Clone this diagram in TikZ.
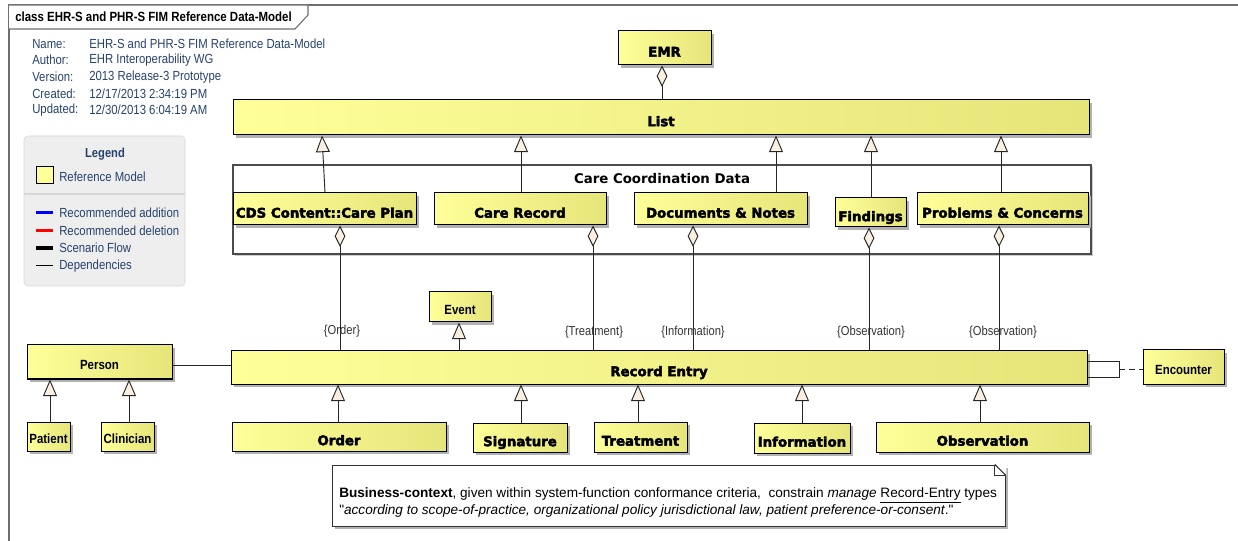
\documentclass[tikz,border=0pt]{standalone}
\usepackage{fontspec}
\setmainfont{Liberation Sans}[FakeStretch=0.86]
\newfontfamily\notefont{Liberation Sans}
\newfontfamily\dvsans{DejaVu Sans}
\newfontfamily\heavyfont{DejaVu Sans Bold}[FakeBold=3]
\usetikzlibrary{arrows.meta,shadows}
\definecolor{yl}{RGB}{255,255,153}
\definecolor{yr}{RGB}{229,229,122}
\definecolor{cream}{RGB}{250,240,226}
\definecolor{navy}{RGB}{38,66,108}
\definecolor{legfill}{RGB}{238,238,238}
\definecolor{legdraw}{RGB}{215,215,215}
\definecolor{framegray}{RGB}{110,110,110}
\newcommand\ubox[7]{\node[#1, minimum width={(#5-#3)*0.75pt}, minimum height={(#6-#4)*0.75pt}] (#2) at ({(#3+#5)/2},{(#4+#6)/2}) {#7};}
\tikzset{
  ybox/.style={draw=black, line width=0.75pt, left color=yl, right color=yr, inner sep=0pt,
    drop shadow={shadow xshift=2.25pt, shadow yshift=-2.25pt, fill=black!30, opacity=1}},
  heavybox/.style={ybox, font=\heavyfont\fontsize{10}{12}\selectfont, text height=15pt, text depth=2pt},
  lightbox/.style={ybox, font=\bfseries\fontsize{10}{12}\selectfont, text height=12pt, text depth=1pt},
  pkgbox/.style={draw=black!70, line width=0.8pt, fill=white, inner sep=0pt,
    drop shadow={shadow xshift=1.5pt, shadow yshift=-1.5pt, fill=black!20, opacity=1}},
  legendbox/.style={draw=legdraw, fill=legfill, rounded corners=3pt, inner sep=0pt},
  conn/.style={draw=black!85, line width=0.7pt},
  gen/.style={conn, -{Triangle[fill=cream, length=12.5pt, width=10.5pt]}},
  agg/.style={conn, {Diamond[fill=cream, length=16pt, width=8pt]}-},
  role/.style={font=\fontsize{9.75}{11}\selectfont, text=black!80, inner sep=0pt},
  hdr/.style={font=\fontsize{9.9}{11}\selectfont, text=navy, anchor=west, inner sep=0pt},
}
\begin{document}
\begin{tikzpicture}[x=0.75pt,y=-0.75pt]
\useasboundingbox (0,0) rectangle (1238,541);
% frame and tab
\draw[framegray, line width=0.8pt] (9,541) -- (9,5) -- (1238,5);
\draw[framegray, line width=0.8pt, fill=white] (9,5) -- (308,5) -- (308,15) -- (295,29) -- (9,29);
\node[font=\bfseries\fontsize{10}{12}\selectfont, anchor=west, inner sep=0pt] (title) at (15,17) {class EHR-S and PHR-S FIM Reference Data-Model};
% header
\node[hdr] (hName) at (32,44) {Name:};
\node[hdr] (vName) at (89,44) {EHR-S and PHR-S FIM Reference Data-Model};
\node[hdr] (hAuthor) at (32,60) {Author:};
\node[hdr] (vAuthor) at (89,60) {EHR Interoperability WG};
\node[hdr] (hVersion) at (32,77) {Version:};
\node[hdr] (vVersion) at (89,77) {2013 Release-3 Prototype};
\node[hdr] (hCreated) at (32,94) {Created:};
\node[hdr] (vCreated) at (89,94) {12/17/2013 2:34:19 PM};
\node[hdr] (hUpdated) at (32,110) {Updated:};
\node[hdr] (vUpdated) at (89,110) {12/30/2013 6:04:19 AM};
% legend
\ubox{legendbox}{legend}{24}{136}{185}{286}{}
\node[font=\bfseries\fontsize{9.75}{11}\selectfont, text=navy, inner sep=0pt] (legtitle) at (105,154) {Legend};
\ubox{draw=black, line width=0.75pt, fill=yl, inner sep=0pt}{legsw}{36}{167}{53}{184}{}
\node[hdr] (legref) at (59,177) {Reference Model};
\coordinate (c194) at (0,194);
\draw[legdraw, line width=0.8pt] (legend.west |- c194) -- (legend.east |- c194);
\draw[blue, line width=2.25pt] (36,213) -- (53,213);
\node[hdr] (legadd) at (59,213) {Recommended addition};
\draw[red, line width=2.25pt] (36,231) -- (53,231);
\node[hdr] (legdel) at (59,231) {Recommended deletion};
\draw[black, line width=3pt] (36,248) -- (53,248);
\node[hdr] (legflow) at (59,248) {Scenario Flow};
\draw[black, line width=0.75pt] (36,266) -- (53,266);
\node[hdr] (legdep) at (59,266) {Dependencies};
% top classes
\ubox{heavybox}{EMR}{618}{31}{711}{65}{EMR}
\ubox{heavybox}{List}{233}{100}{1089}{135}{List}
% package
\ubox{pkgbox}{pkg}{233}{165}{1091}{254}{}
\node[font=\dvsans\bfseries\fontsize{10}{12}\selectfont, inner sep=0pt] (pkgtitle) at (662,179) {Care Coordination Data};
\ubox{heavybox}{CDS}{233}{193}{416}{225}{CDS Content::Care Plan}
\ubox{heavybox}{CR}{434}{193}{606}{225}{Care Record}
\ubox{heavybox}{Docs}{634}{193}{807}{225}{Documents \& Notes}
\ubox{heavybox}{Find}{835}{198}{906}{227}{Findings}
\ubox{heavybox}{Prob}{917}{193}{1088}{225}{Problems \& Concerns}
% middle
\ubox{lightbox}{Event}{429}{292}{491}{322}{Event}
\ubox{lightbox}{Person}{27}{345}{172}{379}{Person}
\ubox{heavybox}{RE}{231}{351}{1087}{384}{Record Entry}
\ubox{lightbox}{Enc}{1143}{350}{1224}{384}{Encounter}
% bottom
\ubox{lightbox}{Patient}{27}{422}{70}{451}{Patient}
\ubox{lightbox}{Clin}{101}{422}{154}{451}{Clinician}
\ubox{heavybox}{Order}{232}{422}{446}{451}{Order}
\ubox{heavybox}{Sig}{473}{423}{567}{452}{Signature}
\ubox{heavybox}{Treat}{594}{422}{687}{452}{Treatment}
\ubox{heavybox}{Info}{754}{423}{850}{453}{Information}
\ubox{heavybox}{Obs}{876}{422}{1089}{452}{Observation}
% helper coordinates
\foreach \xx in {50,129,322,325,338,340,459,521,638,662,693,776,802,869,871,980,999,1001,593}
  {\coordinate (c\xx) at (\xx,0);}
% connectors
\draw[agg] (EMR.south -| c662) -- (List.north -| c662);
\draw[gen] (CDS.north -| c325) -- (List.south -| c322);
\draw[gen] (CR.north -| c521) -- (List.south -| c521);
\draw[gen] (Docs.north -| c776) -- (List.south -| c776);
\draw[gen] (Find.north -| c871) -- (List.south -| c871);
\draw[gen] (Prob.north -| c1001) -- (List.south -| c1001);
\draw[agg] (CDS.south -| c340) -- (RE.north -| c340);
\draw[agg] (CR.south -| c593) -- (RE.north -| c593);
\draw[agg] (Docs.south -| c693) -- (RE.north -| c693);
\draw[agg] (Find.south -| c869) -- (RE.north -| c869);
\draw[agg] (Prob.south -| c999) -- (RE.north -| c999);
\node[role] (rOrder) at (342,331) {\{Order\}};
\node[role] (rTreat) at (594,332) {\{Treatment\}};
\node[role] (rInfo) at (693,332) {\{Information\}};
\node[role] (rObs1) at (871,332) {\{Observation\}};
\node[role] (rObs2) at (1003,332) {\{Observation\}};
\draw[gen] (RE.north -| c459) -- (Event.south -| c459);
\coordinate (c365) at (0,365);
\draw[conn] (Person.east |- c365) -- (RE.west |- c365);
\draw[gen] (Patient.north -| c50) -- (Person.south -| c50);
\draw[gen] (Clin.north -| c129) -- (Person.south -| c129);
\draw[gen] (Order.north -| c338) -- (RE.south -| c338);
\draw[gen] (Sig.north -| c521) -- (RE.south -| c521);
\draw[gen] (Treat.north -| c638) -- (RE.south -| c638);
\draw[gen] (Info.north -| c802) -- (RE.south -| c802);
\draw[gen] (Obs.north -| c980) -- (RE.south -| c980);
\coordinate (qt) at (1119,361);
\coordinate (qb) at (1119,377);
\coordinate (qm) at (1119,369);
\draw[conn] (RE.east |- qt) -- (qt) -- (qb) -- (RE.east |- qb);
\draw[conn, dash pattern=on 4.5pt off 3pt] (qm) -- (Enc.west |- qm);
% note
\ubox{draw=black!80, line width=0.75pt, fill=white, inner sep=0pt, drop shadow={shadow xshift=2.25pt, shadow yshift=-2.25pt, fill=black!30, opacity=1}}{note}{332}{465}{1005}{526}{}
\fill[white] ([xshift=-8pt,yshift=0.6pt]note.north east) -- ([xshift=0.6pt,yshift=0.6pt]note.north east) -- ([xshift=0.6pt,yshift=-8pt]note.north east) -- cycle;
\draw[black!80, line width=0.75pt] ([xshift=-8pt]note.north east) -- ([yshift=-8pt]note.north east);
\draw[black!80, line width=0.6pt] ([xshift=-8pt]note.north east) |- ([yshift=-8pt]note.north east);
\node[font=\notefont\fontsize{10.2}{12.75}\selectfont, align=left, anchor=west, inner sep=0pt] (notetext) at (339,502.5)
 {\textbf{Business-context}, given within system-function conformance criteria,\ \ constrain \textit{manage} \underline{Record-Entry} types\\
  "\textit{according to scope-of-practice, organizational policy jurisdictional law, patient preference-or-consent}."};
\end{tikzpicture}
\end{document}
